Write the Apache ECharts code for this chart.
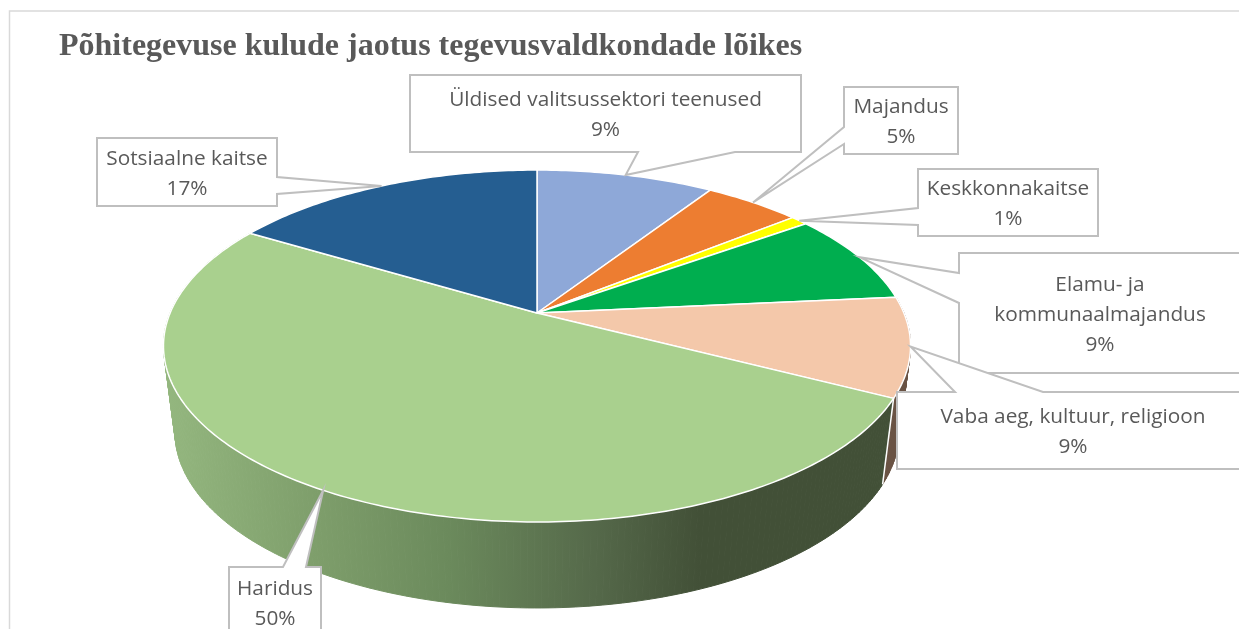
<!DOCTYPE html>
<html>
<head>
<meta charset="utf-8">
<title>Põhitegevuse kulude jaotus</title>
<style>
  html, body { margin: 0; padding: 0; background: #fff; overflow: hidden; }
  #chart { width: 1239px; height: 629px; }
</style>
<script src="https://cdn.jsdelivr.net/npm/echarts@6/dist/echarts.min.js"></script>
</head>
<body>
<div id="chart"></div>
<script>
const chartTitle = 'Põhitegevuse kulude jaotus tegevusvaldkondade lõikes'
const categories = ['Üldised valitsussektori teenused', 'Majandus', 'Keskkonnakaitse', 'Elamu- ja\nkommunaalmajandus', 'Vaba aeg, kultuur, religioon', 'Haridus', 'Sotsiaalne kaitse']
// slice sizes as measured on the picture, the printed percentages are kept apart
const shares = [9.2, 5.0, 0.9, 8.4, 9.1, 51.0, 16.4]
const percentLabels = ['9%', '5%', '1%', '9%', '9%', '50%', '17%']
const sliceColors = ['#8ea8d8', '#ed7d31', '#ffff00', '#00ae4f', '#f4c8aa', '#a9d08e', '#255e91']

// callout boxes: [left, top, right, bottom], side of the pointer, pointer base
const callouts = [
  { box: [410, 75, 801, 152], side: 'bottom', base: [638, 735] },
  { box: [844, 87, 958, 154], side: 'left', base: [127, 144] },
  { box: [918, 169, 1098, 236], side: 'left', base: [208, 225] },
  { box: [959, 253, 1241, 373], side: 'left', base: [273, 303] },
  { box: [897, 392, 1249, 469], side: 'top', base: [955, 1043] },
  { box: [229, 567, 321, 638], side: 'top', base: [283, 306] },
  { box: [97, 138, 277, 206], side: 'right', base: [177, 194] }
]

// perspective of the pie plate
const apexX = 537
const apexY = 313
const plateR = 366.9
const tilt = 0.1875
const yFar = -111.1
// lower rim is the top rim shrunk and moved down
const rimCy = 346
const rimDrop = 432
const rimScaleX = 362 / 373.5

const total = shares.reduce((a, b) => a + b, 0)

function topPoint(pct) {
  let t = (pct / total) * Math.PI * 2
  let u = Math.sin(t)
  let v = Math.cos(t)
  let w = 1 + tilt * v
  return [apexX + (plateR * u) / w, (apexY + yFar * v) / w]
}
function rimPoint(pct) {
  let p = topPoint(pct)
  return [apexX + (p[0] - apexX) * rimScaleX, rimDrop + (p[1] - rimCy)]
}
function startOf(i) {
  let s = 0
  for (let k = 0; k < i; k++) s += shares[k]
  return s
}
function arc(fn, from, to) {
  let pts = []
  let n = Math.max(4, Math.ceil((to - from) * 4))
  for (let k = 0; k <= n; k++) pts.push(fn(from + ((to - from) * k) / n))
  return pts
}

function calloutPoints(c, tip) {
  let [l, t, r, b] = c.box
  let [a, d] = c.base
  if (c.side === 'bottom') return [[l, t], [r, t], [r, b], [d, b], tip, [a, b], [l, b]]
  if (c.side === 'top') return [[l, t], [a, t], tip, [d, t], [r, t], [r, b], [l, b]]
  if (c.side === 'left') return [[l, t], [r, t], [r, b], [l, b], [l, d], tip, [l, a]]
  return [[l, t], [r, t], [r, a], tip, [r, d], [r, b], [l, b]]
}

const wallFills = {
  4: '#6a5344',
  // gradient in page pixels so all wall pieces share it
  5: new echarts.graphic.LinearGradient(164, 0, 893, 0, [
    { offset: 0, color: '#94b77f' },
    { offset: 0.21, color: '#7e9e6b' },
    { offset: 0.39, color: '#6b8a5c' },
    { offset: 0.59, color: '#55694a' },
    { offset: 0.735, color: '#425037' },
    { offset: 1, color: '#425037' }
  ], true)
}

const chart = echarts.init(document.getElementById('chart'), null, { renderer: 'canvas' })
chart.setOption({
  animation: false,
  backgroundColor: '#fff',
  title: {
    text: chartTitle,
    left: 54,
    top: 26,
    textStyle: { fontFamily: 'Liberation Serif', fontWeight: 'bold', fontSize: 32, color: '#595959' }
  },
  graphic: [
    {
      type: 'polyline',
      silent: true,
      z: -1,
      shape: { points: [[9.5, 629], [9.5, 11], [1239, 11]] },
      style: { stroke: '#d9d9d9', lineWidth: 1.5, fill: null }
    }
  ],
  series: [
    {
      // side walls, one quad per small step so the tangent sides get filled
      type: 'custom',
      coordinateSystem: 'none',
      silent: true,
      z: 1,
      data: shares.map(v => [v]),
      renderItem(params, api) {
        let i = params.dataIndex
        if (!wallFills[i]) return null
        let from = startOf(i)
        let to = from + api.value(0)
        let tops = arc(topPoint, from, to)
        let rims = arc(rimPoint, from, to)
        let children = []
        for (let k = 0; k < tops.length - 1; k++) {
          children.push({
            type: 'polygon',
            shape: { points: [tops[k], tops[k + 1], rims[k + 1], rims[k]] },
            style: { fill: wallFills[i], stroke: wallFills[i], lineWidth: 1 }
          })
        }
        children.push({
          type: 'line',
          shape: { x1: tops[0][0], y1: tops[0][1], x2: rims[0][0], y2: rims[0][1] },
          style: { stroke: '#fff', lineWidth: 1.5 }
        })
        return { type: 'group', children }
      }
    },
    {
      // top faces
      type: 'custom',
      coordinateSystem: 'none',
      silent: true,
      z: 2,
      data: shares.map(v => [v]),
      renderItem(params, api) {
        let i = params.dataIndex
        let from = startOf(i)
        let to = from + api.value(0)
        let points = [[apexX, apexY]].concat(arc(topPoint, from, to))
        return {
          type: 'polygon',
          shape: { points },
          style: { fill: sliceColors[i], stroke: '#fff', lineWidth: 1.5, lineJoin: 'round' }
        }
      }
    },
    {
      // callouts
      type: 'custom',
      coordinateSystem: 'none',
      silent: true,
      z: 3,
      data: shares.map(v => [v]),
      renderItem(params, api) {
        let i = params.dataIndex
        let c = callouts[i]
        let tip = topPoint(startOf(i) + api.value(0) / 2)
        return {
          type: 'group',
          children: [
            {
              type: 'polygon',
              shape: { points: calloutPoints(c, tip) },
              style: { fill: '#fff', stroke: '#bfbfbf', lineWidth: 2 }
            },
            {
              type: 'text',
              style: {
                text: categories[i] + '\n' + percentLabels[i],
                x: (c.box[0] + c.box[2]) / 2,
                y: (c.box[1] + c.box[3]) / 2 + 2,
                align: 'center',
                verticalAlign: 'middle',
                lineHeight: 30,
                font: '20.8px "Open Sans"',
                fill: '#595959'
              }
            }
          ]
        }
      }
    }
  ]
})
</script>
</body>
</html>
